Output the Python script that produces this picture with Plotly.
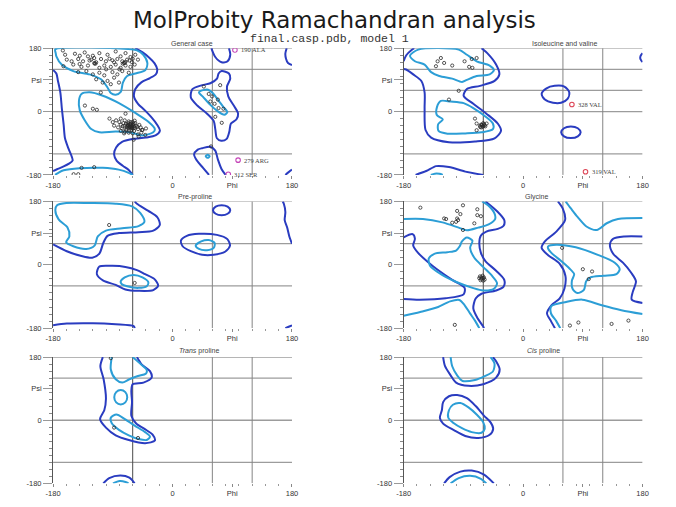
import plotly.graph_objects as go

# ======================= DATA (phi, psi in degrees) =======================
# ---------- General case ----------
gen_allowed_left = [(-180, 118), (-175, 108), (-172.6, 87), (-169, 54), (-166.7, 8), (-164, -38), (-162, -76),
                    (-157, -104), (-152, -127), (-150.5, -139), (-156, -148), (-164, -156), (-174, -164), (-180, -169)]
gen_allowed_right = [(-56, 180), (-45, 168), (-35, 153), (-27, 137), (-23, 120), (-25, 106), (-34, 95), (-47, 83),
                     (-56, 64), (-58, 42), (-52, 22), (-42, 4), (-31, -18), (-23, -38), (-19, -54), (-25, -67),
                     (-40, -74), (-60, -78), (-76, -86), (-85, -102), (-88, -122), (-84, -140), (-75, -154),
                     (-66, -166), (-60, -180)]
gen_allowed_lh = [(74, 115), (85, 108), (87, 93.5), (82, 71), (84, 43), (93, 15), (98.8, -6), (96.4, -22), (88, -34),
                  (85.6, -57), (81.6, -77.6), (73.3, -83), (66.9, -76), (64.4, -50), (62, -26.5), (52, -6),
                  (37.3, 17), (27.5, 40.5), (30, 63.6), (44.7, 75), (57, 80.5), (67, 93.5), (69.4, 108), (74, 115)]
gen_allowed_top = [(58.5, 180), (64.4, 155), (74, 140), (83, 143), (87, 161.5), (85, 180)]
gen_allowed_bot = [(55, -180), (46, -160), (37, -140), (32.5, -122), (38, -108), (44.7, -104), (57, -100),
                   (64.4, -111), (68.3, -136), (74, -164), (80, -180)]
gen_allowed_edge_top = [(180, 132), (174, 138), (171, 150), (170, 165), (172, 180)]
gen_allowed_edge_bot = [(170, -180), (175, -172), (180, -165)]

gen_fav_beta = [(-176.6, 177), (-176, 166), (-175, 157), (-167, 133.5), (-149.5, 115), (-125, 105.6), (-107.7, 91.6),
                (-98, 68.4), (-93, 52.6), (-85.6, 48), (-78, 56), (-74.8, 82), (-68.4, 101), (-56, 108),
                (-41, 117.7), (-37.9, 138), (-44, 161), (-53.6, 174), (-62, 177), (-176.6, 177)]
gen_fav_beta_wrap = [(-177, -180), (-172, -174), (-164, -167), (-140, -161), (-105, -160), (-81, -165), (-66, -174),
                     (-60, -180)]
gen_fav_alpha = [(-137.2, 49.8), (-141, 31), (-139.7, 3.3), (-132.3, -24.6), (-122.5, -49.7), (-110, -59),
                 (-85.6, -57), (-61, -60), (-46, -68), (-29, -59), (-26.6, -49.7), (-36.4, -29), (-56, -4),
                 (-80.7, 24), (-105, 45), (-125, 54.5), (-137.2, 49.8)]
gen_fav_lh = [(42.3, 59), (53.6, 62), (60.5, 52.6), (69.4, 31), (76.7, 12.6), (82.6, -1.4), (78, -9), (68.3, 0.6),
              (57, 19), (45.7, 42.4), (39.8, 54.4), (42.3, 59)]
gen_fav_small = [(50, -127), (53, -122.5), (56, -127), (53, -131.5), (50, -127)]

gen_points = [
    (-165.2, 173.5), (-161.8, 161.4), (-147, 164.2), (-139.7, 158.6), (-132.3, 167.9), (-127.4, 156.8),
    (-120, 158.6), (-110.2, 166), (-97.9, 161.4), (-85.6, 170.7), (-78.2, 156.8), (-70.8, 166), (-63.4, 154.9),
    (-56.1, 161.4), (-159.3, 147.5), (-152, 142.8), (-142.1, 149.3), (-134.8, 142.8), (-122.5, 147.5),
    (-115, 140), (-107.7, 149.3), (-100.3, 142.8), (-90.5, 145.6), (-83.1, 149.3), (-75.7, 142.8),
    (-68.4, 147.5), (-61, 140), (-52.1, 147.5), (-164.3, 128.9), (-149.5, 133.5), (-137.2, 127),
    (-127.4, 130.7), (-117.5, 136.3), (-110.2, 124.2), (-102.8, 130.7), (-93, 127), (-85.6, 133.5),
    (-78.2, 124.2), (-70.8, 130.7), (-63.4, 127), (-57, 133.5), (-142.1, 112.1), (-129.8, 114.9),
    (-120, 105.6), (-110.2, 110.3), (-102.8, 102.8), (-90.5, 112.1), (-83.1, 105.6), (-75.7, 114.9),
    (-65.9, 110.3), (-115, 91.7), (-105.2, 82.4), (-97.9, 87), (-88, 96.3), (-93, 77.7), (-80.7, 82.4),
    (-118, 152), (-125, 145), (-95, 150), (-88, 140), (-72, 138), (-65, 145), (-60, 150), (-140, 135),
    (-100, 120), (-80, 120), (-117.6, 138), (-116, 136), (-73.3, 138), (-75, 136), (-71, 141),
    (-132, 17), (-120, 8), (-114, 5), (-108, 54),
    (-63, -40), (-65, -42), (-60, -38), (-67, -38), (-62, -44), (-58, -42), (-70, -35), (-64, -36),
    (-61, -47), (-66, -45), (-68, -41), (-59, -35), (-72, -40), (-63, -30), (-57, -46), (-55, -40),
    (-69, -48), (-74, -33), (-62, -52), (-66, -28), (-60, -30), (-53, -44), (-75, -42), (-78, -37),
    (-65, -55), (-58, -55), (-70, -52), (-52, -50), (-48, -45), (-80, -30), (-85, -25), (-72, -25),
    (-56, -33), (-62, -35), (-64, -43), (-67, -33), (-61, -41), (-59, -48), (-63, -46), (-68, -44),
    (-50, -38), (-76, -48), (-82, -45), (-57, -26), (-45, -52), (-90, -30), (-95, -20), (-66, -60),
    (-72, -58), (-47, -60), (-52, -65), (-60, -62), (-88, -40), (-40, -48), (-78, -55),
    (-70.8, -6), (-78, -20), (-46, -52.5), (-51, -71), (-58.5, -80), (-41, -66.5), (-73, -62),
    (-149, -178), (-142, -178), (-137, -160), (-118, -158),
    (47.2, 71), (71.8, 75), (54.6, 50), (59.5, 43), (68.3, 34), (57, 28.5), (63.4, 22), (69.4, 10),
    (76.7, 8), (64.4, -15), (74.2, -32), (58, -99),
]
gen_outliers = [(94, 175), (98.8, -138), (84, -178)]
gen_outlier_labels = ['190 ALA', '279 ARG', '312 SER']

# ---------- Isoleucine and valine ----------
ile_allowed_topleft = [(-180, 143), (-176, 160), (-168, 175), (-164, 180)]
ile_allowed_main = [(-180, 121), (-176.3, 119.5), (-165.6, 105.6), (-153.3, 87), (-148.4, 54.4), (-148.4, 8),
                    (-147, -52.5), (-138.6, -74), (-111.7, -87), (-72.5, -85), (-43, -76), (-33.3, -55),
                    (-38.2, -34), (-55.3, -6), (-75, 22), (-89.6, 45), (-84.7, 64), (-65, 73), (-43, 87),
                    (-35.8, 105.6), (-40.7, 133.5), (-54, 166), (-62.7, 180)]
ile_allowed_bot = [(-162, -180), (-146, -169), (-131, -155), (-111.7, -157.7), (-87, -170.7), (-60, -180)]
ile_allowed_edge = [(180, 166), (177, 158), (176.5, 151), (178, 145), (180, 141)]
ile_allowed_e1 = [(27.9, 50), (35.3, 66), (47.5, 73), (62.2, 71), (69.6, 54.4), (67, 36), (57.3, 25), (45, 25),
                  (32.8, 34), (27.9, 50)]
ile_allowed_e2 = [(57.3, -59), (61.6, -47.5), (72, -42.7), (82.4, -47.5), (86.7, -59), (82.4, -70.5), (72, -75.3),
                  (61.6, -70.5), (57.3, -59)]
ile_fav_top = [(-158, 176), (-170.4, 158.6), (-163, 143), (-148.4, 133.5), (-138.6, 112), (-126.4, 101),
               (-106.8, 93.5), (-92, 84), (-84.7, 90), (-70, 101), (-50.4, 105.6), (-44, 117.7), (-50.4, 130.7),
               (-70, 142.8), (-84.7, 161.4), (-97, 176), (-158, 176)]
ile_fav_bot = [(-139, -180), (-133, -176.5), (-126, -177), (-121, -180)]
ile_fav_alpha = [(-123.9, 30.2), (-129.8, 12.6), (-130, -10), (-121, -22), (-128, -36), (-127.4, -55),
                 (-114, -62.8), (-87, -62), (-62.7, -59), (-45.5, -49.8), (-45.5, -34), (-57.8, -12.6),
                 (-75, 10), (-89.6, 24), (-109.2, 28.4), (-123.9, 30.2)]
ile_points = [(-123.9, 152.1), (-128.8, 142.8), (-119, 138.1), (-131.3, 128.8), (-106.8, 130.7), (-88.2, 142.8),
              (-77.4, 149.3), (-70, 152.1), (-81.3, 127), (-76.4, 124.2), (-97, 59), (-111.7, 34),
              (-72.5, -20), (-70, -34), (-63, -37), (-60, -41), (-64.6, -44), (-58, -39), (-70, -53), (-55, -34),
              (-62, -38), (-61, -43), (-59, -36), (-65, -40), (-57, -42), (-63, -45), (-60, -33)]
ile_outliers = [(73.5, 20), (94, -171)]
ile_outlier_labels = ['328 VAL', '319 VAL']

# ---------- Pre-proline ----------
pre_allowed_top = [(-180, 58), (-179, 57), (-159.3, 38.6), (-137.2, 24.7), (-121, 20), (-110.2, 32), (-104.3, 62),
                   (-97.9, 82.3), (-80.7, 90), (-51.2, 92.6), (-29, 97), (-19.2, 113), (-22.6, 134.4),
                   (-36.4, 153), (-53.6, 173.5), (-57, 180)]
pre_allowed_bot = [(-180, -172), (-159.3, -167), (-120, -166), (-85.6, -169), (-58.5, -174.4), (-57, -180)]
pre_allowed_alpha = [(-110.2, -5), (-114, -26.5), (-104.3, -45), (-85.6, -57), (-71, -70), (-51.2, -74), (-29, -72),
                     (-21.6, -59), (-27.5, -40), (-41.3, -26.5), (-53.6, -15), (-71, -6), (-90.5, -3), (-110.2, -5)]
pre_allowed_lh = [(12.8, 69.3), (21.6, 82.3), (39.8, 88), (66.8, 85), (82.6, 73), (86.6, 54.4), (79.2, 37),
                  (62, 28.4), (44.7, 28.4), (27.6, 38.6), (15.2, 52.6), (12.8, 69.3)]
pre_allowed_small = [(61, 155), (65, 165), (74, 169), (83, 165), (87, 155), (83, 145), (74, 141), (65, 145), (61, 155)]
pre_allowed_edge = [(166, 180), (167.7, 173.5), (170, 150), (169, 127), (172.6, 106.5), (176, 80.5), (180, 60)]
pre_allowed_edge_bot = [(170, -180), (175, -176), (180, -172)]
pre_fav_top = [(-174, 169), (-176.6, 155), (-171.6, 129), (-158.4, 106.5), (-155.4, 80.5), (-160.3, 64),
               (-149.5, 52.6), (-130, 45), (-117.5, 54.4), (-112.6, 80.5), (-100.3, 97), (-75.7, 103.7),
               (-51.2, 110), (-42.3, 122), (-48.7, 147.4), (-61, 166), (-85.6, 173.5), (-125, 175.3),
               (-160, 175.3), (-174, 169)]
pre_fav_alpha = [(-78.2, -48), (-72, -35.8), (-58.5, -29), (-45.3, -35.8), (-36.4, -49.7), (-38.8, -61),
                 (-51.2, -65.6), (-68.4, -61), (-76.7, -54.4), (-78.2, -48)]
pre_fav_lh = [(34.9, 54.4), (43.3, 66.5), (54.6, 70.2), (63.4, 62), (62, 48), (52, 41.4), (39.8, 45), (34.9, 54.4)]
pre_points = [(-95.5, 113), (-57, -51.6)]

# ---------- Glycine ----------
gly_allowed_a = [(-56.8, 180), (-39.2, 152), (-28.4, 127), (-29.4, 111), (-38.2, 102), (-55.4, 94.4), (-63.6, 83.3),
                 (-66, 62), (-63.6, 34), (-56.8, 10.7), (-40.7, -17), (-28.4, -43), (-29.4, -62), (-40.7, -73),
                 (-62.7, -82.3), (-71.5, -96), (-75, -124), (-68.6, -152), (-60.2, -175), (-59, -180)]
gly_allowed_b = [(-180, 77.7), (-166.5, 87), (-163, 74), (-165.6, 55.4), (-158.2, 34), (-136.2, -3.3),
                 (-106.8, -43), (-88.2, -65.6), (-89.6, -84), (-116.5, -95), (-155.8, -99), (-180, -97)]
gly_allowed_a2 = [(52.4, 180), (59.8, 159.5), (63.2, 127), (50, 94.4), (32.8, 66.5), (27.9, 48), (37.7, 27.4),
                  (54.9, 3.3), (63.7, -31), (62.2, -68), (54.9, -96), (42.6, -115), (36, -138), (42, -160),
                  (48, -180)]
gly_allowed_b2 = [(180, 80.5), (152.8, 80.5), (135.7, 74), (130.8, 57.2), (135.7, 31.2), (150.4, 6), (162.6, -21.8),
                  (170, -47), (165.1, -77.6), (163.6, -99), (180, -108.3)]
gly_fav_a = [(-180, 130), (-150.9, 130), (-121.5, 120.5), (-97, 105.6), (-84.7, 98), (-67.6, 105.6), (-51.9, 115),
             (-42.2, 130), (-43, 145.6), (-52.9, 169), (-61.7, 180)]
gly_fav_b = [(-92.1, 66.5), (-84.7, 77.7), (-76.4, 68.4), (-79.8, 48), (-73.5, 20), (-60.2, -6), (-47, -31),
             (-39.2, -52.5), (-44.1, -68.4), (-60.2, -73), (-75, -66.4), (-99.5, -49.7), (-123.9, -26.5),
             (-140, -3.3), (-142.1, 18), (-133.7, 31), (-114.2, 35.8), (-101, 40.5), (-95.5, 52.6), (-92.1, 66.5)]
gly_fav_c = [(-180, -145), (-155, -134), (-128, -120), (-110, -104), (-96, -100), (-88, -115), (-80, -138),
             (-72, -160), (-66, -180)]
gly_fav_a2 = [(180, -140), (148, -129), (118.5, -115), (89.2, -99), (64.7, -105.6), (42.6, -117.7), (42, -138),
              (50, -160), (56, -180)]
gly_fav_b2 = [(37.7, 52.6), (50, 57.2), (79.4, 49.8), (113.6, 27.4), (138.1, 6), (145.5, -12.6), (140.6, -26.5),
              (121, -31), (101.4, -35.8), (95, -47), (91.6, -71), (81.8, -80.4), (74.5, -68), (73.5, -45),
              (76.9, -26.5), (69.5, -9.8), (57.3, 10.7), (42.6, 34), (37.7, 46), (37.7, 52.6)]
gly_fav_c2 = [(64, 180), (72, 160), (82, 136), (96, 108), (111, 99), (126, 118), (143, 130), (180, 133)]
gly_points = [(-154.8, 162.3), (-90.6, 169), (-99.4, 153), (-94.5, 144), (-69, 157.7), (-69, 141), (-63.6, 138),
              (-119, 131.6), (-116, 130), (-99.4, 131.6), (-98, 127), (-101, 122), (-106.8, 119.5),
              (-73.5, 117.8), (-90.6, 99),
              (-62.7, -35.8), (-60, -38), (-65, -33), (-58, -42), (-63, -40), (-61, -31), (-66, -38),
              (-59, -36), (-64, -44), (-60, -45),
              (58.8, 48), (90, -12.6), (103.9, -19), (98.9, -40.5), (-102.9, -170.7), (70.5, -172.6),
              (83.3, -164), (133.3, -168), (158.7, -158.6)]

# ---------- Trans proline ----------
tpro_allowed = [(-105, 180), (-108.7, 154), (-103.8, 116.8), (-100.3, 61), (-102.8, 28.4), (-109.2, 3.3),
                (-100.3, -21), (-85.6, -43), (-65.9, -56.3), (-41.3, -65.6), (-26.6, -58), (-30, -41.3),
                (-42.3, -24.6), (-55.1, -8.8), (-62, 12.6), (-61, 51.6), (-62, 84.2), (-60, 102.8),
                (-43.8, 107.4), (-31.5, 121.4), (-34, 140), (-46.2, 158.6), (-53.6, 180)]
tpro_allowed_bot = [(-104.3, -180), (-95.4, -165), (-78.2, -157.7), (-65, -164), (-57.1, -180)]
tpro_fav_top = [(-91.5, 180), (-93, 144.7), (-85.6, 116.8), (-75.7, 107.4), (-65, 116.8), (-52.1, 126),
                (-40.3, 132.6), (-38.8, 142.8), (-47.2, 158.6), (-60, 180)]
tpro_fav_mid = [(-87.8, 65.6), (-84.9, 80), (-78, 86), (-71.1, 80), (-68.2, 65.6), (-71.1, 51), (-78, 45),
                (-84.9, 51), (-87.8, 65.6)]
tpro_fav_low = [(-93, 7), (-84.6, 16.3), (-71.8, 3.3), (-57.1, -15.3), (-41.3, -34), (-34, -47), (-38.8, -56.3),
                (-51.2, -53.5), (-65.9, -43), (-80.7, -27.4), (-91.5, -8.8), (-93, 7)]
tpro_fav_bot = [(-89.7, -180), (-79.7, -173.5), (-70.8, -176), (-66.3, -180)]
tpro_points = [(-93, 177), (-88, -21), (-52, -50.7)]

# ---------- Cis proline ----------
cpro_allowed_top = [(-120.5, 180), (-117.6, 154), (-109.2, 128), (-101, 107.4), (-82.3, 98), (-60, 102.8),
                    (-40.7, 121.4), (-35.3, 144.7), (-40.7, 168), (-45.5, 180)]
cpro_allowed_mid = [(-120.5, 51.6), (-111.7, 68.4), (-99.4, 72), (-84.7, 62.8), (-71.5, 40.5), (-58.8, 12.6),
                    (-49, -6), (-45.1, -24.6), (-50.4, -41.4), (-67.6, -50.7), (-87.2, -45), (-104.3, -28.4),
                    (-120.5, -9.8), (-125.4, 7), (-122.4, 28.4), (-120.5, 51.6)]
cpro_allowed_bot = [(-119, -180), (-110.7, -162.3), (-94.5, -146.5), (-77.4, -143.7), (-58.8, -154.9),
                    (-44.1, -180)]
cpro_fav_top = [(-109.2, 180), (-106.8, 154), (-99.4, 128), (-91.1, 112), (-72.5, 115), (-57.8, 126),
                (-45.5, 139), (-43.1, 161.4), (-49, 180)]
cpro_fav_mid = [(-111.7, 28.4), (-105.8, 44.2), (-94.5, 49), (-82.3, 36.7), (-70, 16.3), (-60, -6), (-57.8, -24.6),
                (-62.7, -35.8), (-77.4, -34), (-92.1, -22.8), (-104.3, -8.8), (-112.7, 7), (-111.7, 28.4)]
cpro_fav_bot = [(-109.2, -180), (-97, -165), (-79.8, -158.6), (-63.6, -167), (-55.4, -180)]

# ---------- reference lines and ticks ----------
hlines_a = [180, 120, 60, 0, -120]
hlines_b = [180, 60, -60]
hlines_c = [180, 120, 0, -120]
vlines = [-60, 60, 120]
tick_vals = [-180, 0, 90, 180]
x_tick_text = ['-180', '0', 'Phi', '180']
y_tick_text = ['-180', '0', 'Psi', '180']

# ======================= STYLE / LAYOUT =======================
W, H = 676, 507
DARK = '#2a3cc0'
LIGHT = '#2c9ed6'
FONT = 'Liberation Sans, Arial, sans-serif'


def fx(px):
    return px / W


def fy(py):
    return 1 - py / H


panels = [
    dict(box=(46, 290, 45, 174), title='General case', tpos=(188, 40), hl=hlines_a,
         allowed=[gen_allowed_left, gen_allowed_right, gen_allowed_lh, gen_allowed_top, gen_allowed_bot,
                  gen_allowed_edge_top, gen_allowed_edge_bot],
         favored=[gen_fav_beta, gen_fav_beta_wrap, gen_fav_alpha, gen_fav_lh, gen_fav_small],
         pts=gen_points, out=gen_outliers, out_lab=gen_outlier_labels, out_col='#c545b8'),
    dict(box=(404, 648, 45, 174), title='Isoleucine and valine', tpos=(568, 40), hl=hlines_a,
         allowed=[ile_allowed_topleft, ile_allowed_main, ile_allowed_bot, ile_allowed_edge, ile_allowed_e1,
                  ile_allowed_e2],
         favored=[ile_fav_top, ile_fav_bot, ile_fav_alpha],
         pts=ile_points, out=ile_outliers, out_lab=ile_outlier_labels, out_col='#dd4455'),
    dict(box=(46, 290, 201, 330), title='Pre-proline', tpos=(191, 196), hl=hlines_b,
         allowed=[pre_allowed_top, pre_allowed_bot, pre_allowed_alpha, pre_allowed_lh, pre_allowed_small,
                  pre_allowed_edge, pre_allowed_edge_bot],
         favored=[pre_fav_top, pre_fav_alpha, pre_fav_lh],
         pts=pre_points, out=[], out_lab=[], out_col='#dd4455'),
    dict(box=(404, 648, 201, 330), title='Glycine', tpos=(540, 196), hl=hlines_b,
         allowed=[gly_allowed_a, gly_allowed_b, gly_allowed_a2, gly_allowed_b2],
         favored=[gly_fav_a, gly_fav_b, gly_fav_c, gly_fav_a2, gly_fav_b2, gly_fav_c2],
         pts=gly_points, out=[], out_lab=[], out_col='#dd4455'),
    dict(box=(46, 290, 359.5, 488), title='<i>Trans</i> proline', tpos=(195, 353), hl=hlines_c,
         allowed=[tpro_allowed, tpro_allowed_bot],
         favored=[tpro_fav_top, tpro_fav_mid, tpro_fav_low, tpro_fav_bot],
         pts=tpro_points, out=[], out_lab=[], out_col='#dd4455'),
    dict(box=(404, 648, 359.5, 488), title='<i>Cis</i> proline', tpos=(547, 353.5), hl=hlines_c,
         allowed=[cpro_allowed_top, cpro_allowed_mid, cpro_allowed_bot],
         favored=[cpro_fav_top, cpro_fav_mid, cpro_fav_bot],
         pts=[], out=[], out_lab=[], out_col='#dd4455'),
]


def xy(pts):
    return [p[0] for p in pts], [p[1] for p in pts]


fig = go.Figure()
shapes = []
annotations = []

for i, p in enumerate(panels, start=1):
    s = '' if i == 1 else str(i)
    xr, yr = 'x' + s, 'y' + s
    l, r, t, b = p['box']

    for c in p['allowed']:
        x, y = xy(c)
        fig.add_trace(go.Scatter(x=x, y=y, mode='lines', xaxis=xr, yaxis=yr, hoverinfo='skip',
                                 line=dict(color=DARK, width=2, shape='spline', smoothing=0.8)))
    for c in p['favored']:
        x, y = xy(c)
        fig.add_trace(go.Scatter(x=x, y=y, mode='lines', xaxis=xr, yaxis=yr, hoverinfo='skip',
                                 line=dict(color=LIGHT, width=2, shape='spline', smoothing=0.8)))
    if p['pts']:
        x, y = xy(p['pts'])
        fig.add_trace(go.Scatter(x=x, y=y, mode='markers', xaxis=xr, yaxis=yr, hoverinfo='skip',
                                 marker=dict(symbol='circle-open', size=3.2, color='#2a2a2a',
                                             line=dict(width=0.8, color='#2a2a2a'))))
    if p['out']:
        x, y = xy(p['out'])
        fig.add_trace(go.Scatter(x=x, y=y, mode='markers', xaxis=xr, yaxis=yr, hoverinfo='skip',
                                 marker=dict(symbol='circle-open', size=4.5, color=p['out_col'],
                                             line=dict(width=1.1, color=p['out_col']))))
        for (ox, oy), lab in zip(p['out'], p['out_lab']):
            annotations.append(dict(x=ox, y=oy, xref=xr, yref=yr, text=lab, showarrow=False,
                                    xanchor='left', xshift=4, yshift=0,
                                    font=dict(family='Liberation Serif, serif', size=6.5, color='#444')))

    for h in p['hl']:
        shapes.append(dict(type='line', xref=xr, yref=yr, x0=-180, x1=180, y0=h, y1=h, layer='below',
                           line=dict(color='#9c9c9c', width=1.3)))
    for v in vlines:
        col = '#4a4a4a' if v == -60 else '#858585'
        shapes.append(dict(type='line', xref=xr, yref=yr, x0=v, x1=v, y0=-180, y1=180, layer='below',
                           line=dict(color=col, width=1)))

    fig.layout['xaxis' + s] = dict(
        domain=[fx(l), fx(r)], anchor=yr, range=[-180, 180], showgrid=False, zeroline=False, showline=False,
        ticks='outside', ticklen=3, tickcolor='#888', tickwidth=1, tickmode='array', tickvals=tick_vals,
        ticktext=x_tick_text, tickfont=dict(family=FONT, size=7.5, color='#333'),
        minor=dict(ticks='outside', ticklen=2, tickcolor='#999', tickmode='linear', tick0=-180, dtick=20,
                   showgrid=False),
        fixedrange=True)
    fig.layout['yaxis' + s] = dict(
        domain=[fy(b), fy(t)], anchor=xr, range=[-180, 180], showgrid=False, zeroline=False,
        showline=True, linecolor='#555', linewidth=1,
        ticks='outside', ticklen=9, tickcolor='#999', tickwidth=1, tickmode='array', tickvals=tick_vals,
        ticktext=y_tick_text, tickfont=dict(family=FONT, size=7.5, color='#333'),
        minor=dict(ticks='outside', ticklen=3, tickcolor='#888', tickmode='linear', tick0=-180, dtick=20,
                   showgrid=False),
        fixedrange=True)

    annotations.append(dict(x=fx(p['tpos'][0]), y=fy(p['tpos'][1]), xref='paper', yref='paper',
                            text=p['title'], showarrow=False, xanchor='center', yanchor='middle',
                            font=dict(family=FONT, size=7, color='#444')))

annotations.append(dict(x=fx(333), y=fy(16), xref='paper', yref='paper',
                        text='MolProbity Ramachandran analysis', showarrow=False,
                        xanchor='center', yanchor='middle',
                        font=dict(family='DejaVu Sans, Verdana, sans-serif', size=23, color='#1a1a1a')))
annotations.append(dict(x=fx(328), y=fy(35), xref='paper', yref='paper',
                        text='final.casp.pdb, model 1', showarrow=False,
                        xanchor='center', yanchor='middle',
                        font=dict(family='Liberation Mono, monospace', size=11.5, color='#333')))

fig.update_layout(width=W, height=H, margin=dict(l=0, r=0, t=0, b=0), paper_bgcolor='white',
                  plot_bgcolor='white', showlegend=False, shapes=shapes, annotations=annotations)

fig.write_html("out.html", config={'displayModeBar': False},
               post_script="document.body.style.margin='0';document.body.style.overflow='hidden';")
